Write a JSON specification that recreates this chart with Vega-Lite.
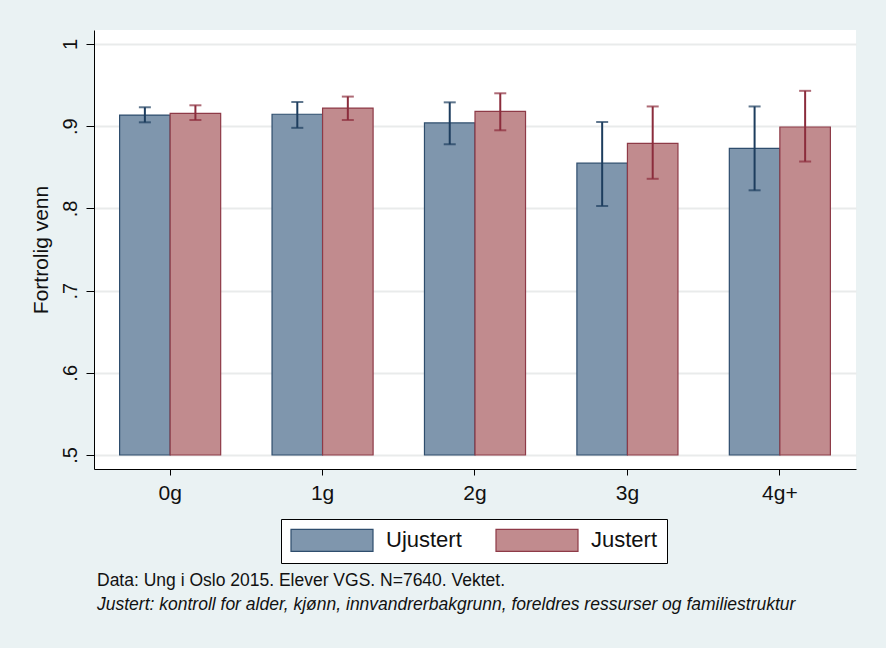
{
  "$schema": "https://vega.github.io/schema/vega-lite/v6.json",
  "width": 762,
  "height": 439,
  "autosize": {"type": "none"},
  "padding": {"left": 94, "top": 30, "right": 30, "bottom": 179},
  "background": "#eaf2f3",
  "config": {
    "view": {"fill": "white", "stroke": null},
    "font": "Liberation Sans"
  },
  "title": {
    "text": "Data: Ung i Oslo 2015. Elever VGS. N=7640. Vektet.",
    "subtitle": "Justert: kontroll for alder, kjønn, innvandrerbakgrunn, foreldres ressurser og familiestruktur",
    "orient": "bottom",
    "anchor": "start",
    "frame": "group",
    "fontSize": 17.5,
    "fontWeight": "normal",
    "subtitleFontSize": 17.5,
    "subtitleFontStyle": "italic",
    "color": "#111111",
    "subtitleColor": "#111111",
    "offset": 8,
    "subtitlePadding": 7,
    "dx": 3
  },
  "data": {
    "values": [
      {"group": "0g", "type": "Ujustert", "mean": 0.9135, "lo": 0.9047, "hi": 0.923},
      {"group": "0g", "type": "Justert", "mean": 0.9157, "lo": 0.9075, "hi": 0.9254},
      {"group": "1g", "type": "Ujustert", "mean": 0.9145, "lo": 0.898, "hi": 0.9294},
      {"group": "1g", "type": "Justert", "mean": 0.922, "lo": 0.9075, "hi": 0.936},
      {"group": "2g", "type": "Ujustert", "mean": 0.904, "lo": 0.878, "hi": 0.929},
      {"group": "2g", "type": "Justert", "mean": 0.918, "lo": 0.895, "hi": 0.940},
      {"group": "3g", "type": "Ujustert", "mean": 0.855, "lo": 0.803, "hi": 0.905},
      {"group": "3g", "type": "Justert", "mean": 0.879, "lo": 0.836, "hi": 0.924},
      {"group": "4g+", "type": "Ujustert", "mean": 0.873, "lo": 0.822, "hi": 0.924},
      {"group": "4g+", "type": "Justert", "mean": 0.899, "lo": 0.857, "hi": 0.943}
    ]
  },
  "encoding": {
    "x": {
      "field": "group",
      "type": "nominal",
      "sort": ["0g", "1g", "2g", "3g", "4g+"],
      "scale": {"paddingInner": 0.337, "paddingOuter": 0.168},
      "axis": {
        "title": null,
        "labelAngle": 0,
        "labelFontSize": 21,
        "labelColor": "#111111",
        "tickSize": 6,
        "tickColor": "black",
        "domainColor": "black",
        "labelPadding": 7,
        "grid": false
      }
    },
    "xOffset": {
      "field": "type",
      "type": "nominal",
      "sort": ["Ujustert", "Justert"],
      "scale": {"paddingInner": 0, "paddingOuter": 0}
    }
  },
  "layer": [
    {
      "mark": {"type": "bar", "strokeWidth": 1.2},
      "encoding": {
        "y": {
          "field": "mean",
          "type": "quantitative",
          "scale": {"domain": [0.483, 1.017], "nice": false, "zero": false},
          "axis": {
            "title": "Fortrolig venn",
            "titleFontSize": 21,
            "titleFontWeight": "normal",
            "titleColor": "#111111",
            "titlePadding": 9,
            "values": [0.5, 0.6, 0.7, 0.8, 0.9, 1],
            "labelExpr": "datum.value >= 0.999 ? '1' : '.' + round(datum.value * 10)",
            "labelAngle": -90,
            "labelFontSize": 20,
            "labelColor": "#111111",
            "labelPadding": 6,
            "tickSize": 8,
            "tickColor": "black",
            "domainColor": "black",
            "gridColor": "#e9ebeb",
            "gridWidth": 2
          }
        },
        "y2": {"datum": 0.5},
        "fill": {
          "field": "type",
          "type": "nominal",
          "scale": {"domain": ["Ujustert", "Justert"], "range": ["#7f96ad", "#c18b8e"]},
          "legend": {
            "title": null,
            "orient": "none",
            "legendX": 187,
            "legendY": 489,
            "direction": "horizontal",
            "symbolType": "M-1,-1L6.4545,-1L6.4545,1L-1,1Z",
            "symbolSize": 484,
            "symbolStrokeWidth": 1.2,
            "symbolOpacity": 1,
            "labelFontSize": 22,
            "labelColor": "#111111",
            "labelOffset": 72,
            "columnPadding": 31,
            "padding": 9,
            "strokeColor": "black",
            "fillColor": "white",
            "labelLimit": 300
          }
        },
        "stroke": {
          "field": "type",
          "type": "nominal",
          "scale": {"domain": ["Ujustert", "Justert"], "range": ["#2e4d6d", "#8e3a47"]}
        }
      }
    },
    {
      "mark": {"type": "rule", "strokeWidth": 2},
      "encoding": {
        "y": {"field": "lo", "type": "quantitative"},
        "y2": {"field": "hi"},
        "color": {"condition": {"test": "datum.type == 'Ujustert'", "value": "#1d3d5e"}, "value": "#8b2c3c"}
      }
    },
    {
      "mark": {"type": "tick", "orient": "horizontal", "size": 12, "thickness": 2},
      "encoding": {
        "y": {"field": "hi", "type": "quantitative"},
        "color": {"condition": {"test": "datum.type == 'Ujustert'", "value": "#1d3d5e"}, "value": "#8b2c3c"}
      }
    },
    {
      "mark": {"type": "tick", "orient": "horizontal", "size": 12, "thickness": 2},
      "encoding": {
        "y": {"field": "lo", "type": "quantitative"},
        "color": {"condition": {"test": "datum.type == 'Ujustert'", "value": "#1d3d5e"}, "value": "#8b2c3c"}
      }
    }
  ]
}
